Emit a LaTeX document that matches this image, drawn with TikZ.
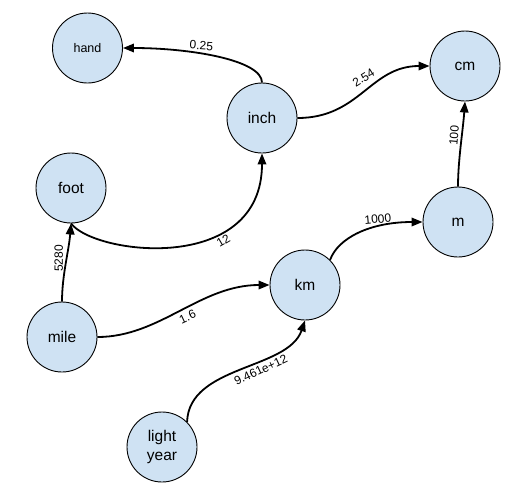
\documentclass[tikz,border=0pt]{standalone}
\usepackage{fontspec}
\setmainfont{Liberation Sans}
\usetikzlibrary{arrows.meta}
\definecolor{nodeblue}{HTML}{CFE2F3}
\tikzset{
  unit/.style={circle, draw=black, line width=0.9pt, fill=nodeblue, minimum size=70pt, inner sep=0pt, font=\fontsize{15.5}{18}\selectfont, align=center},
  smallunit/.style={unit, font=\fontsize{12.5}{15}\selectfont},
  conv/.style={line width=1.8pt, -{Triangle[length=11pt,width=8.5pt]}},
  lbl/.style={font=\fontsize{12}{14}\selectfont, inner sep=2.5pt}
}
\begin{document}
\begin{tikzpicture}[x=1pt,y=-1pt]
\useasboundingbox (0,0) rectangle (509,493);
\node[smallunit] (hand) at (87.5,48) {hand};
\node[unit] (inch) at (262,118) {inch};
\node[unit] (cm) at (465,66) {cm};
\node[unit] (foot) at (71,188) {foot};
\node[unit] (m) at (458,222) {m};
\node[unit] (km) at (305,285) {km};
\node[unit] (mile) at (62,337) {mile};
\node[unit, font=\fontsize{15.5}{19}\selectfont] (ly) at (162,447) {light\\year};

\draw[conv] (inch.north) .. controls (262,60) and (190,48) .. node[lbl, pos=0.6, rotate=-4, anchor=south, inner sep=3pt] {0.25} (hand.east);
\draw[conv] (inch.east) .. controls (360,118) and (370,66) .. node[lbl, pos=0.55, rotate=32, anchor=south, inner sep=7pt] {2.54} (cm.west);
\draw[conv] (foot.south) .. controls (95,255) and (262,275) .. node[lbl, pos=0.67, rotate=30, anchor=north, inner sep=4.5pt] {12} (inch.south);
\draw[conv] (mile.north) .. controls (62,275) and (69,250) .. node[lbl, pos=0.55, rotate=90, anchor=south] {5280} (foot.south);
\draw[conv] (mile.east) .. controls (160,337) and (200,285) .. node[lbl, pos=0.52, rotate=25, anchor=north, inner sep=3pt] {1.6} (km.west);
\draw[conv] (ly.45) .. controls (189,365) and (288,370) .. node[lbl, pos=0.6, rotate=25, anchor=north, inner sep=4.5pt] {9.461e+12} (km.south);
\draw[conv] (km.45) .. controls (338,238) and (370,222) .. node[lbl, pos=0.68, rotate=5, anchor=south] {1000} (m.west);
\draw[conv] (m.north) .. controls (458,160) and (463,130) .. node[lbl, pos=0.6, rotate=85, anchor=south] {100} (cm.south);
\end{tikzpicture}
\end{document}
